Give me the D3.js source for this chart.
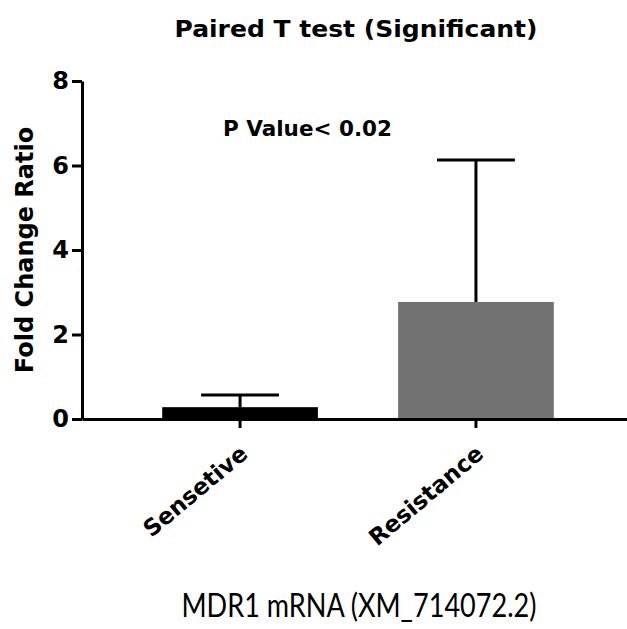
<!DOCTYPE html>
<html>
<head>
<meta charset="utf-8">
<script src="https://cdn.jsdelivr.net/npm/d3@7"></script>
<style>
  html, body { margin: 0; padding: 0; background: #fff; }
  svg { display: block; }
  .axis path, .axis line { stroke: #000; stroke-width: 3px; }
  .axis text { font-family: "DejaVu Sans", sans-serif; font-weight: bold; fill: #000; }
</style>
</head>
<body>
<div id="chart"></div>
<script>
const categories = ["Sensetive", "Resistance"];
const meanValues = [0.28, 2.77];
const sdValues = [0.29, 3.36];
const yTicks = [0, 2, 4, 6, 8];
const barColors = ["#000000", "#727272"];

const width = 627;
const height = 629;

const svg = d3.select("#chart")
  .append("svg")
  .attr("width", width)
  .attr("height", height);

const rows = categories.map((label, i) => ({
  label,
  mean: meanValues[i],
  sd: sdValues[i],
  color: barColors[i]
}));

const xScale = d3.scaleBand()
  .domain(categories)
  .range([82, 634])
  .paddingInner(0.34)
  .paddingOuter(0.34);

const yScale = d3.scaleLinear()
  .domain([0, 8])
  .range([419, 81]);

// bars
svg.selectAll(".bar")
  .data(rows)
  .join("rect")
  .attr("class", "bar")
  .attr("x", (d) => xScale(d.label))
  .attr("y", (d) => yScale(d.mean))
  .attr("width", xScale.bandwidth())
  .attr("height", (d) => yScale(0) - yScale(d.mean))
  .attr("fill", (d) => d.color);

// error bars (upper only)
const err = svg.selectAll(".err")
  .data(rows)
  .join("g")
  .attr("class", "err")
  .attr("stroke", "#000")
  .attr("stroke-width", 3);

err.append("line")
  .attr("x1", (d) => xScale(d.label) + xScale.bandwidth() / 2)
  .attr("x2", (d) => xScale(d.label) + xScale.bandwidth() / 2)
  .attr("y1", (d) => yScale(d.mean))
  .attr("y2", (d) => yScale(d.mean + d.sd));

err.append("line")
  .attr("x1", (d) => xScale(d.label) + xScale.bandwidth() / 4)
  .attr("x2", (d) => xScale(d.label) + xScale.bandwidth() * 3 / 4)
  .attr("y1", (d) => yScale(d.mean + d.sd))
  .attr("y2", (d) => yScale(d.mean + d.sd));

// axes
svg.append("g")
  .attr("class", "axis")
  .attr("transform", "translate(82,0)")
  .call(d3.axisLeft(yScale).tickValues(yTicks).tickSize(10).tickSizeOuter(0).tickPadding(3))
  .selectAll("text")
  .attr("font-size", 24);

svg.append("g")
  .attr("class", "axis")
  .attr("transform", `translate(0,${yScale(0)})`)
  .call(d3.axisBottom(xScale).tickSize(9).tickSizeOuter(0))
  .selectAll("text")
  .attr("font-size", 23)
  .attr("text-anchor", "end")
  .attr("x", 0)
  .attr("y", 0)
  .attr("dy", "0.75em")
  .attr("transform", "translate(-2,24) rotate(-40)");

// y label
svg.append("text")
  .attr("transform", "translate(33,250) rotate(-90)")
  .attr("text-anchor", "middle")
  .attr("font-family", "DejaVu Sans, sans-serif")
  .attr("font-weight", "bold")
  .attr("font-size", 24)
  .text("Fold Change Ratio");

// title
svg.append("text")
  .attr("x", 356)
  .attr("y", 37)
  .attr("text-anchor", "middle")
  .attr("font-family", "DejaVu Sans, sans-serif")
  .attr("font-weight", "bold")
  .attr("font-size", 23)
  .attr("textLength", 363)
  .attr("lengthAdjust", "spacingAndGlyphs")
  .text("Paired T test (Significant)");

// p value note
svg.append("text")
  .attr("x", 223)
  .attr("y", 136)
  .attr("font-family", "DejaVu Sans, sans-serif")
  .attr("font-weight", "bold")
  .attr("font-size", 21)
  .attr("textLength", 169)
  .attr("lengthAdjust", "spacingAndGlyphs")
  .text("P Value< 0.02");

// caption
svg.append("text")
  .attr("x", 359)
  .attr("y", 617)
  .attr("text-anchor", "middle")
  .attr("font-family", "Lato, sans-serif")
  .attr("font-size", 32)
  .attr("textLength", 355)
  .attr("lengthAdjust", "spacingAndGlyphs")
  .text("MDR1 mRNA (XM_714072.2)");
</script>
</body>
</html>
